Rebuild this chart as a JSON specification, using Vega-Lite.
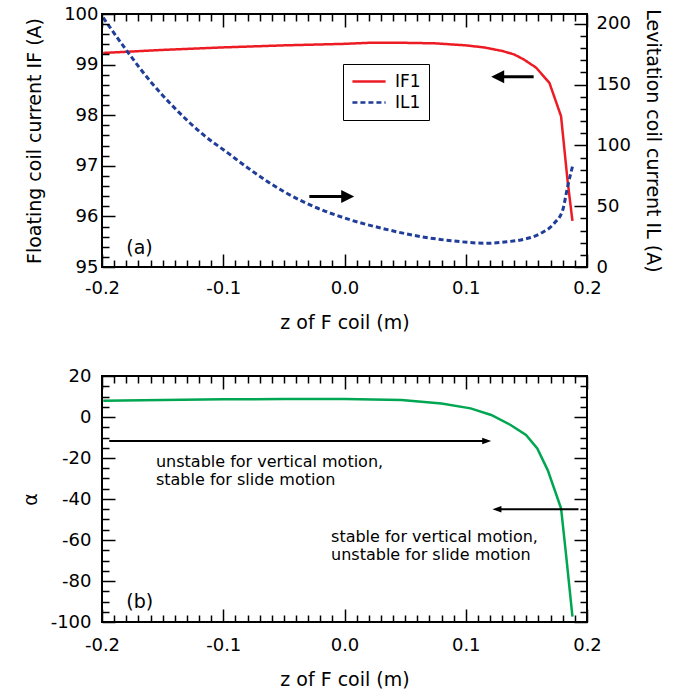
{
  "$schema": "https://vega.github.io/schema/vega-lite/v6.json",
  "background": "white",
  "padding": {"left": 20, "top": 4, "right": 5, "bottom": 5},
  "spacing": 33,
  "config": {
    "view": {"stroke": "black", "strokeWidth": 2},
    "axis": {"domain": false, "ticks": true, "tickColor": "black", "tickOpacity": 1, "tickWidth": 1.5, "labelColor": "black", "labelFont": "DejaVu Sans", "labelFontSize": 18, "titleFont": "DejaVu Sans", "titleFontSize": 19, "titleFontWeight": "normal", "titleColor": "black", "grid": false, "labelFlush": false, "labelOverlap": false},
    "text": {"font": "DejaVu Sans", "color": "black"}
  },
  "resolve": {"scale": {"color": "independent", "strokeDash": "independent", "shape": "independent"}},
  "datasets": {
    "IF": [
      {"z": -0.199, "I": 99.23}, {"z": -0.15, "I": 99.29}, {"z": -0.1, "I": 99.34}, {"z": -0.05, "I": 99.38},
      {"z": 0.0, "I": 99.41}, {"z": 0.02, "I": 99.43}, {"z": 0.05, "I": 99.43}, {"z": 0.075, "I": 99.42},
      {"z": 0.1, "I": 99.38}, {"z": 0.115, "I": 99.34}, {"z": 0.13, "I": 99.27}, {"z": 0.14, "I": 99.2},
      {"z": 0.148, "I": 99.1}, {"z": 0.158, "I": 98.94}, {"z": 0.169, "I": 98.64}, {"z": 0.1786, "I": 97.98},
      {"z": 0.184, "I": 96.7}, {"z": 0.188, "I": 95.91}
    ],
    "IL": [
      {"z": -0.199, "I": 205}, {"z": -0.179, "I": 177}, {"z": -0.16, "I": 152.5}, {"z": -0.14, "I": 130.6},
      {"z": -0.118, "I": 110}, {"z": -0.096, "I": 93.6}, {"z": -0.077, "I": 79.5}, {"z": -0.05, "I": 62},
      {"z": -0.022, "I": 48.3}, {"z": 0.005, "I": 38.7}, {"z": 0.033, "I": 31.3}, {"z": 0.06, "I": 25.5},
      {"z": 0.088, "I": 21.6}, {"z": 0.118, "I": 19.5}, {"z": 0.1345, "I": 20.8}, {"z": 0.148, "I": 22.8},
      {"z": 0.162, "I": 27.7}, {"z": 0.173, "I": 36}, {"z": 0.18, "I": 46.9}, {"z": 0.184, "I": 66},
      {"z": 0.188, "I": 82.5}
    ],
    "alpha": [
      {"z": -0.199, "a": 7.9}, {"z": -0.15, "a": 8.3}, {"z": -0.1, "a": 8.6}, {"z": -0.05, "a": 8.8},
      {"z": 0.0, "a": 8.8}, {"z": 0.047, "a": 8.3}, {"z": 0.08, "a": 6.6}, {"z": 0.104, "a": 4.2},
      {"z": 0.121, "a": 1.0}, {"z": 0.137, "a": -3.9}, {"z": 0.1497, "a": -8.8}, {"z": 0.159, "a": -15.3},
      {"z": 0.1676, "a": -25.9}, {"z": 0.1786, "a": -44.5}, {"z": 0.1827, "a": -67}, {"z": 0.188, "a": -97.4}
    ],
    "arrowsTop": [
      {"z": 0.156, "z2": 0.127, "ztip": 0.121, "v": 156.4, "dir": "left"},
      {"z": -0.029, "z2": 0.002, "ztip": 0.008, "v": 57.9, "dir": "right"}
    ],
    "arrowsBottom": [
      {"z": -0.194, "z2": 0.117, "ztip": 0.121, "a": -11.7, "dir": "right"},
      {"z": 0.193, "z2": 0.126, "ztip": 0.122, "a": -45, "dir": "left"}
    ],
    "labelTop": [{"z": -0.18, "v": 95.257, "t": "(a)"}],
    "labelBottom": [{"z": -0.18, "a": -93.2, "t": "(b)"}],
    "notes": [
      {"z": -0.1555, "a": -24.6, "t": "unstable for vertical motion,\nstable for slide motion"},
      {"z": -0.0111, "a": -61.2, "t": "stable for vertical motion,\nunstable for slide motion"}
    ]
  },
  "vconcat": [
    {
      "width": 485,
      "height": 253,
      "resolve": {"scale": {"y": "independent"}, "axis": {"x": "independent", "y": "independent"}},
      "layer": [
        {
          "data": {"name": "IF"},
          "mark": {"type": "line", "strokeWidth": 2.5},
          "encoding": {
            "x": {"field": "z", "type": "quantitative", "scale": {"domain": [-0.2, 0.2], "nice": false, "zero": false},
              "axis": {"orient": "bottom", "zindex": 1, "tickColor": "black", "values": [-0.2, -0.19, -0.18, -0.17, -0.16, -0.15, -0.14, -0.13, -0.12, -0.11, -0.1, -0.09, -0.08, -0.07, -0.06, -0.05, -0.04, -0.03, -0.02, -0.01, 0, 0.01, 0.02, 0.03, 0.04, 0.05, 0.06, 0.07, 0.08, 0.09, 0.1, 0.11, 0.12, 0.13, 0.14, 0.15, 0.16, 0.17, 0.18, 0.19, 0.2],
                "labelExpr": "abs(datum.value*10 - round(datum.value*10)) < 1e-6 ? replace(format(datum.value, '.1f'), '\u2212', '-') : ''",
                "tickSize": {"condition": {"test": "abs(datum.value*10 - round(datum.value*10)) < 1e-6", "value": -13}, "value": -7},
                "labelPadding": 25, "title": "z of F coil (m)", "titlePadding": 10}},
            "y": {"field": "I", "type": "quantitative", "scale": {"domain": [95, 100], "nice": false, "zero": false},
              "axis": {"orient": "left", "zindex": 1, "tickColor": "black", "values": [95, 95.2, 95.4, 95.6, 95.8, 96, 96.2, 96.4, 96.6, 96.8, 97, 97.2, 97.4, 97.6, 97.8, 98, 98.2, 98.4, 98.6, 98.8, 99, 99.2, 99.4, 99.6, 99.8, 100],
                "labelExpr": "abs(datum.value - round(datum.value)) < 1e-6 ? format(datum.value, 'd') : ''",
                "tickSize": {"condition": {"test": "abs(datum.value - round(datum.value)) < 1e-6", "value": -13}, "value": -7},
                "labelPadding": 17, "title": "Floating coil current IF (A)", "titlePadding": 19}},
            "color": {"datum": "IF1", "type": "nominal", "scale": {"domain": ["IF1", "IL1"], "range": ["#ed1c24", "#1f3d99"]},
              "legend": {"title": null, "orient": "none", "legendX": 241, "legendY": 50, "strokeColor": "black", "fillColor": "white", "padding": 8, "symbolType": "stroke", "symbolSize": 1100, "symbolStrokeWidth": 2.5, "labelFontSize": 17, "labelFont": "DejaVu Sans", "labelColor": "black", "labelOffset": 8, "clipHeight": 19, "rowPadding": 2}},
            "strokeDash": {"datum": "IF1", "type": "nominal", "scale": {"domain": ["IF1", "IL1"], "range": [[1, 0], [5, 3]]},
              "legend": {"title": null, "orient": "none", "legendX": 241, "legendY": 50, "strokeColor": "black", "fillColor": "white", "padding": 8, "symbolType": "stroke", "symbolSize": 1100, "symbolStrokeWidth": 2.5, "labelFontSize": 17, "labelFont": "DejaVu Sans", "labelColor": "black", "labelOffset": 8, "clipHeight": 19, "rowPadding": 2}}
          }
        },
        {
          "data": {"name": "IL"},
          "mark": {"type": "line", "strokeWidth": 3, "interpolate": "monotone"},
          "encoding": {
            "x": {"field": "z", "type": "quantitative", "scale": {"domain": [-0.2, 0.2], "nice": false, "zero": false},
              "axis": {"orient": "top", "zindex": 1, "tickColor": "black", "values": [-0.2, -0.19, -0.18, -0.17, -0.16, -0.15, -0.14, -0.13, -0.12, -0.11, -0.1, -0.09, -0.08, -0.07, -0.06, -0.05, -0.04, -0.03, -0.02, -0.01, 0, 0.01, 0.02, 0.03, 0.04, 0.05, 0.06, 0.07, 0.08, 0.09, 0.1, 0.11, 0.12, 0.13, 0.14, 0.15, 0.16, 0.17, 0.18, 0.19, 0.2],
                "labels": false,
                "tickSize": {"condition": {"test": "abs(datum.value*10 - round(datum.value*10)) < 1e-6", "value": -13}, "value": -7},
                "title": null}},
            "y": {"field": "I", "type": "quantitative", "scale": {"domain": [0, 208], "nice": false, "zero": false},
              "axis": {"orient": "right", "zindex": 1, "tickColor": "black", "values": [0, 10, 20, 30, 40, 50, 60, 70, 80, 90, 100, 110, 120, 130, 140, 150, 160, 170, 180, 190, 200],
                "labelExpr": "datum.value % 50 == 0 ? format(datum.value, 'd') : ''",
                "tickSize": {"condition": {"test": "datum.value % 50 == 0", "value": -13}, "value": -7},
                "labelPadding": 22, "title": "Levitation coil current IL (A)", "titlePadding": 12}},
            "color": {"datum": "IL1", "type": "nominal", "scale": {"domain": ["IF1", "IL1"], "range": ["#ed1c24", "#1f3d99"]},
              "legend": {"title": null, "orient": "none", "legendX": 241, "legendY": 50, "strokeColor": "black", "fillColor": "white", "padding": 8, "symbolType": "stroke", "symbolSize": 1100, "symbolStrokeWidth": 2.5, "labelFontSize": 17, "labelFont": "DejaVu Sans", "labelColor": "black", "labelOffset": 8, "clipHeight": 19, "rowPadding": 2}},
            "strokeDash": {"datum": "IL1", "type": "nominal", "scale": {"domain": ["IF1", "IL1"], "range": [[1, 0], [5, 3]]},
              "legend": {"title": null, "orient": "none", "legendX": 241, "legendY": 50, "strokeColor": "black", "fillColor": "white", "padding": 8, "symbolType": "stroke", "symbolSize": 1100, "symbolStrokeWidth": 2.5, "labelFontSize": 17, "labelFont": "DejaVu Sans", "labelColor": "black", "labelOffset": 8, "clipHeight": 19, "rowPadding": 2}}
          }
        },
        {
          "data": {"name": "labelTop"},
          "mark": {"type": "text", "fontSize": 19, "align": "left", "baseline": "alphabetic"},
          "encoding": {
            "x": {"field": "z", "type": "quantitative", "scale": {"domain": [-0.2, 0.2], "nice": false, "zero": false}, "axis": null},
            "y": {"field": "v", "type": "quantitative", "scale": {"domain": [95, 100], "nice": false, "zero": false}, "axis": null},
            "text": {"field": "t"}
          }
        },
        {
          "data": {"name": "arrowsTop"},
          "mark": {"type": "rule", "strokeWidth": 3, "color": "black"},
          "encoding": {
            "x": {"field": "z", "type": "quantitative", "scale": {"domain": [-0.2, 0.2], "nice": false, "zero": false}, "axis": null},
            "x2": {"field": "z2"},
            "y": {"field": "v", "type": "quantitative", "scale": {"domain": [0, 208], "nice": false, "zero": false}, "axis": null}
          }
        },
        {
          "data": {"name": "arrowsTop"},
          "mark": {"type": "point", "filled": true, "color": "black", "opacity": 1, "strokeWidth": 0, "size": 169},
          "encoding": {
            "x": {"field": "ztip", "type": "quantitative", "scale": {"domain": [-0.2, 0.2], "nice": false, "zero": false}, "axis": null},
            "y": {"field": "v", "type": "quantitative", "scale": {"domain": [0, 208], "nice": false, "zero": false}, "axis": null},
            "shape": {"field": "dir", "type": "nominal", "scale": {"domain": ["right", "left"], "range": ["M0,0L-2,-1L-2,1Z", "M0,0L2,-1L2,1Z"]}, "legend": null}
          }
        }
      ]
    },
    {
      "width": 485,
      "height": 246,
      "resolve": {"axis": {"x": "independent", "y": "independent"}},
      "layer": [
        {
          "data": {"name": "alpha"},
          "mark": {"type": "line", "strokeWidth": 2.5, "color": "#00a651"},
          "encoding": {
            "x": {"field": "z", "type": "quantitative", "scale": {"domain": [-0.2, 0.2], "nice": false, "zero": false},
              "axis": {"orient": "bottom", "zindex": 1, "tickColor": "black", "values": [-0.2, -0.19, -0.18, -0.17, -0.16, -0.15, -0.14, -0.13, -0.12, -0.11, -0.1, -0.09, -0.08, -0.07, -0.06, -0.05, -0.04, -0.03, -0.02, -0.01, 0, 0.01, 0.02, 0.03, 0.04, 0.05, 0.06, 0.07, 0.08, 0.09, 0.1, 0.11, 0.12, 0.13, 0.14, 0.15, 0.16, 0.17, 0.18, 0.19, 0.2],
                "labelExpr": "abs(datum.value*10 - round(datum.value*10)) < 1e-6 ? replace(format(datum.value, '.1f'), '\u2212', '-') : ''",
                "tickSize": {"condition": {"test": "abs(datum.value*10 - round(datum.value*10)) < 1e-6", "value": -13}, "value": -7},
                "labelPadding": 27, "title": "z of F coil (m)", "titlePadding": 10}},
            "y": {"field": "a", "type": "quantitative", "scale": {"domain": [-100, 20], "nice": false, "zero": false},
              "axis": {"orient": "left", "zindex": 1, "tickColor": "black", "values": [-100, -95, -90, -85, -80, -75, -70, -65, -60, -55, -50, -45, -40, -35, -30, -25, -20, -15, -10, -5, 0, 5, 10, 15, 20],
                "labelExpr": "datum.value % 20 == 0 ? replace(format(datum.value, 'd'), '\u2212', '-') : ''",
                "tickSize": {"condition": {"test": "datum.value % 20 == 0", "value": -13}, "value": -7},
                "labelPadding": 24, "title": "α", "titlePadding": 10}}
          }
        },
        {
          "mark": {"type": "rule", "strokeWidth": 1.5, "color": "black"},
          "encoding": {
            "y": {"datum": 0, "type": "quantitative", "scale": {"domain": [-100, 20], "nice": false, "zero": false}, "axis": null}
          }
        },
        {
          "data": {"name": "notes"},
          "mark": {"type": "text", "fontSize": 16, "align": "left", "baseline": "alphabetic", "lineBreak": "\n", "lineHeight": 18},
          "encoding": {
            "x": {"field": "z", "type": "quantitative", "scale": {"domain": [-0.2, 0.2], "nice": false, "zero": false},
              "axis": {"orient": "top", "zindex": 1, "tickColor": "black", "values": [-0.2, -0.19, -0.18, -0.17, -0.16, -0.15, -0.14, -0.13, -0.12, -0.11, -0.1, -0.09, -0.08, -0.07, -0.06, -0.05, -0.04, -0.03, -0.02, -0.01, 0, 0.01, 0.02, 0.03, 0.04, 0.05, 0.06, 0.07, 0.08, 0.09, 0.1, 0.11, 0.12, 0.13, 0.14, 0.15, 0.16, 0.17, 0.18, 0.19, 0.2],
                "labels": false,
                "tickSize": {"condition": {"test": "abs(datum.value*10 - round(datum.value*10)) < 1e-6", "value": -13}, "value": -7},
                "title": null}},
            "y": {"field": "a", "type": "quantitative", "scale": {"domain": [-100, 20], "nice": false, "zero": false},
              "axis": {"orient": "right", "zindex": 1, "tickColor": "black", "values": [-100, -95, -90, -85, -80, -75, -70, -65, -60, -55, -50, -45, -40, -35, -30, -25, -20, -15, -10, -5, 0, 5, 10, 15, 20],
                "labels": false,
                "tickSize": {"condition": {"test": "datum.value % 20 == 0", "value": -13}, "value": -7},
                "title": null}},
            "text": {"field": "t"}
          }
        },
        {
          "data": {"name": "labelBottom"},
          "mark": {"type": "text", "fontSize": 19, "align": "left", "baseline": "alphabetic"},
          "encoding": {
            "x": {"field": "z", "type": "quantitative", "scale": {"domain": [-0.2, 0.2], "nice": false, "zero": false}, "axis": null},
            "y": {"field": "a", "type": "quantitative", "scale": {"domain": [-100, 20], "nice": false, "zero": false}, "axis": null},
            "text": {"field": "t"}
          }
        },
        {
          "data": {"name": "arrowsBottom"},
          "mark": {"type": "rule", "strokeWidth": 2, "color": "black"},
          "encoding": {
            "x": {"field": "z", "type": "quantitative", "scale": {"domain": [-0.2, 0.2], "nice": false, "zero": false}, "axis": null},
            "x2": {"field": "z2"},
            "y": {"field": "a", "type": "quantitative", "scale": {"domain": [-100, 20], "nice": false, "zero": false}, "axis": null}
          }
        },
        {
          "data": {"name": "arrowsBottom"},
          "mark": {"type": "point", "filled": true, "color": "black", "opacity": 1, "strokeWidth": 0, "size": 81},
          "encoding": {
            "x": {"field": "ztip", "type": "quantitative", "scale": {"domain": [-0.2, 0.2], "nice": false, "zero": false}, "axis": null},
            "y": {"field": "a", "type": "quantitative", "scale": {"domain": [-100, 20], "nice": false, "zero": false}, "axis": null},
            "shape": {"field": "dir", "type": "nominal", "scale": {"domain": ["right", "left"], "range": ["M0,0L-2,-0.7L-2,0.7Z", "M0,0L2,-0.7L2,0.7Z"]}, "legend": null}
          }
        }
      ]
    }
  ]
}
